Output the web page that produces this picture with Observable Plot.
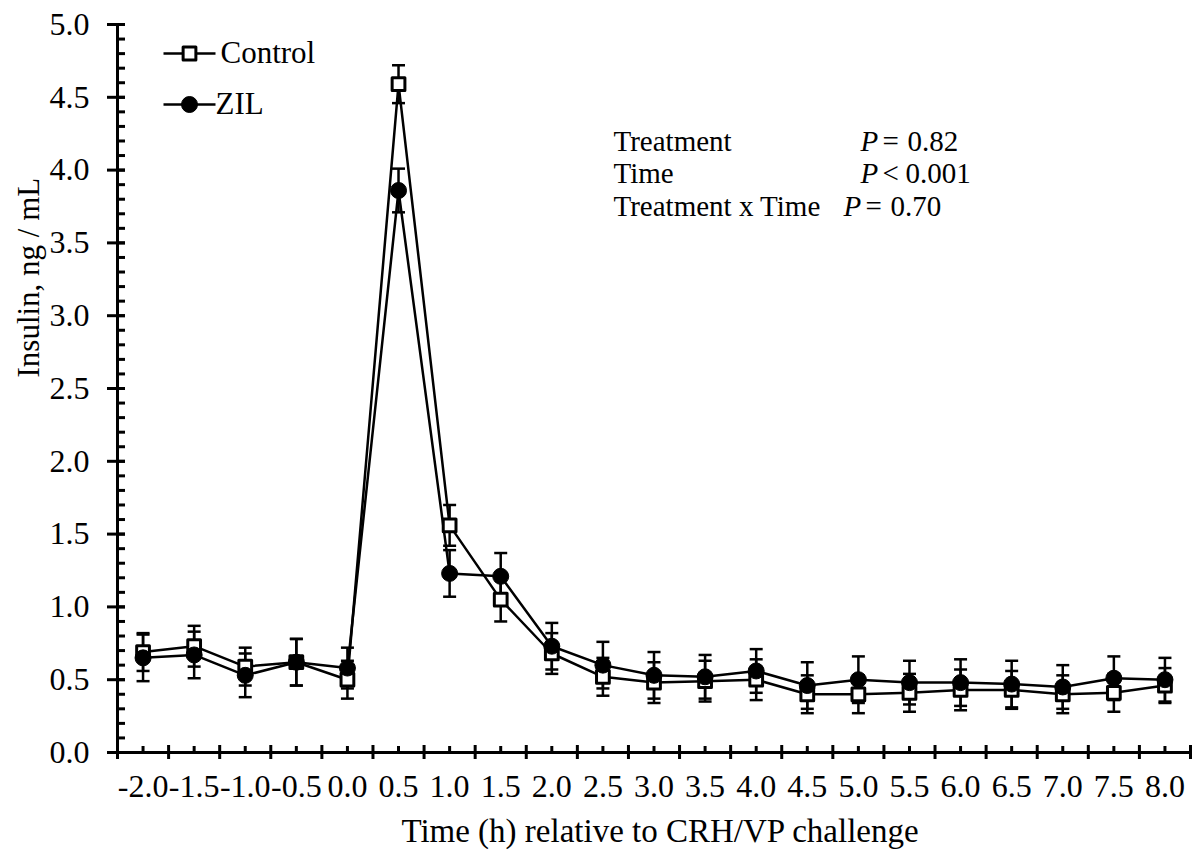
<!DOCTYPE html>
<html>
<head>
<meta charset="utf-8">
<script src="https://cdn.jsdelivr.net/npm/d3@7"></script>
<script src="https://cdn.jsdelivr.net/npm/@observablehq/plot@0.6"></script>
<style>
  html, body { margin: 0; padding: 0; background: white; overflow: hidden; }
</style>
</head>
<body>
<div id="chart"></div>
<script>
// ---- Data ----
const times = [-2.0, -1.5, -1.0, -0.5, 0.0, 0.5, 1.0, 1.5, 2.0, 2.5, 3.0, 3.5, 4.0, 4.5, 5.0, 5.5, 6.0, 6.5, 7.0, 7.5, 8.0];
const control   = [0.69, 0.73, 0.59, 0.62, 0.50, 4.59, 1.56, 1.05, 0.68, 0.52, 0.48, 0.49, 0.50, 0.40, 0.40, 0.41, 0.43, 0.43, 0.40, 0.41, 0.46];
const controlSE = [0.13, 0.14, 0.13, 0.16, 0.13, 0.13, 0.14, 0.15, 0.14, 0.13, 0.14, 0.14, 0.14, 0.13, 0.13, 0.13, 0.14, 0.13, 0.13, 0.13, 0.12];
const zil       = [0.65, 0.67, 0.53, 0.62, 0.58, 3.86, 1.23, 1.21, 0.73, 0.60, 0.53, 0.52, 0.56, 0.46, 0.50, 0.48, 0.48, 0.47, 0.45, 0.51, 0.50];
const zilSE     = [0.16, 0.16, 0.15, 0.16, 0.14, 0.15, 0.16, 0.16, 0.16, 0.16, 0.16, 0.15, 0.15, 0.16, 0.16, 0.15, 0.16, 0.16, 0.15, 0.15, 0.15];
const seriesNames = ["Control", "ZIL"];
const yMajorTicks = [0, 0.5, 1.0, 1.5, 2.0, 2.5, 3.0, 3.5, 4.0, 4.5, 5.0];
const statTerms  = ["Treatment", "Time", "Treatment x Time"];
const statOps    = ["=", "<", "="];
const statValues = ["0.82", "0.001", "0.70"];
const xTitle = "Time (h) relative to CRH/VP challenge";
const yTitle = "Insulin, ng / mL";

// ---- Derived ----
const controlData = times.map((t, i) => ({time: t, value: control[i], se: controlSE[i]}));
const zilData = times.map((t, i) => ({time: t, value: zil[i], se: zilSE[i]}));
const xMajorTicks = times.map(t => t - 0.25).concat([times[times.length - 1] + 0.25]);
const xDomain = [xMajorTicks[0], xMajorTicks[xMajorTicks.length - 1]];
const yMinorTicks = d3.range(0, 51).map(i => i / 10);

const capSymbol = {draw(ctx) { ctx.moveTo(-6.5, 0); ctx.lineTo(6.5, 0); }};
const legendLine = {draw(ctx) { ctx.moveTo(-26, 0); ctx.lineTo(26, 0); }};

const font = "Liberation Serif, Times New Roman, serif";

function errorMarks(data) {
  return [
    Plot.ruleX(data, {x: "time", y1: d => d.value - d.se, y2: d => d.value + d.se, stroke: "black", strokeWidth: 2.5}),
    Plot.dot(data, {x: "time", y: d => d.value + d.se, symbol: capSymbol, r: 5, fill: "none", stroke: "black", strokeWidth: 2.5}),
    Plot.dot(data, {x: "time", y: d => d.value - d.se, symbol: capSymbol, r: 5, fill: "none", stroke: "black", strokeWidth: 2.5})
  ];
}

// stats annotation layout (pixel offsets from the frame's top-left corner)
const statLayout = [
  {termDx: 496, pDx: 743, opDx: 765, valDx: 790, dy: 117},
  {termDx: 496, pDx: 743, opDx: 765, valDx: 788, dy: 149},
  {termDx: 496, pDx: 726, opDx: 748, valDx: 773, dy: 182}
];
const textOpts = {text: d => d, frameAnchor: "top-left", textAnchor: "start", lineAnchor: "middle"};
const statMarks = statTerms.flatMap((term, i) => {
  const L = statLayout[i];
  return [
    Plot.text([term], {...textOpts, dx: L.termDx, dy: L.dy, fontSize: 29}),
    Plot.text(["P"], {...textOpts, dx: L.pDx, dy: L.dy, fontSize: 29, fontStyle: "italic"}),
    Plot.text([statOps[i]], {...textOpts, dx: L.opDx, dy: L.dy, fontSize: 29}),
    Plot.text([statValues[i]], {...textOpts, dx: L.valDx, dy: L.dy, fontSize: 29})
  ];
});

const chart = Plot.plot({
  width: 1192,
  height: 851,
  marginLeft: 117,
  marginRight: 2,
  marginTop: 24,
  marginBottom: 99,
  style: {fontFamily: font, fontSize: "32px", color: "black", background: "white"},
  x: {type: "linear", domain: xDomain},
  y: {domain: [0, 5]},
  marks: [
    // error bars
    ...errorMarks(controlData),
    ...errorMarks(zilData),
    // lines
    Plot.line(controlData, {x: "time", y: "value", stroke: "black", strokeWidth: 2.5}),
    Plot.line(zilData, {x: "time", y: "value", stroke: "black", strokeWidth: 2.5}),
    // markers
    Plot.dot(controlData, {x: "time", y: "value", symbol: "square", r: 7.2, fill: "white", stroke: "black", strokeWidth: 3, strokeLinejoin: "round"}),
    Plot.dot(zilData, {x: "time", y: "value", symbol: "circle", r: 8, fill: "black", stroke: "black", strokeWidth: 1}),
    // axis lines
    Plot.frame({anchor: "left", stroke: "black", strokeWidth: 3}),
    Plot.frame({anchor: "bottom", stroke: "black", strokeWidth: 3}),
    // x ticks
    Plot.axisX({ticks: xMajorTicks, tickSize: 14, dy: -7, tickFormat: () => "", strokeWidth: 3, label: null}),
    Plot.axisX({ticks: times, tickSize: 6, dy: -6, tickFormat: () => "", strokeWidth: 3, label: null}),
    Plot.axisX({ticks: times, tickSize: 0, tickPadding: 22, tickFormat: d => d.toFixed(1), fontSize: 32, label: null}),
    // y ticks
    Plot.axisY({ticks: yMajorTicks, tickSize: 18, dx: 8, tickFormat: () => "", strokeWidth: 3, label: null}),
    Plot.axisY({ticks: yMinorTicks, tickSize: 8, dx: 8, tickFormat: () => "", strokeWidth: 3, label: null}),
    Plot.axisY({ticks: yMajorTicks, tickSize: 0, tickPadding: 28, tickFormat: d => d.toFixed(1), fontSize: 32, label: null}),
    // axis titles
    Plot.text([xTitle], {text: d => d, frameAnchor: "bottom", dx: 6, dy: 79, fontSize: 33, lineAnchor: "middle"}),
    Plot.text([yTitle], {text: d => d, frameAnchor: "left", rotate: -90, dx: -88, dy: -11, fontSize: 31, lineAnchor: "middle"}),
    // legend
    Plot.dot([seriesNames[0]], {frameAnchor: "top-left", dx: 72, dy: 29, symbol: legendLine, r: 5, fill: "none", stroke: "black", strokeWidth: 2.5}),
    Plot.dot([seriesNames[0]], {frameAnchor: "top-left", dx: 72, dy: 29, symbol: "square", r: 7.2, fill: "white", stroke: "black", strokeWidth: 3, strokeLinejoin: "round"}),
    Plot.text([seriesNames[0]], {...textOpts, dx: 103, dy: 29, fontSize: 31}),
    Plot.dot([seriesNames[1]], {frameAnchor: "top-left", dx: 72, dy: 80, symbol: legendLine, r: 5, fill: "none", stroke: "black", strokeWidth: 2.5}),
    Plot.dot([seriesNames[1]], {frameAnchor: "top-left", dx: 72, dy: 80, symbol: "circle", r: 8, fill: "black", stroke: "black", strokeWidth: 1}),
    Plot.text([seriesNames[1]], {...textOpts, dx: 98, dy: 80, fontSize: 31}),
    // statistics annotation
    ...statMarks
  ]
});
document.getElementById("chart").appendChild(chart);
</script>
</body>
</html>
